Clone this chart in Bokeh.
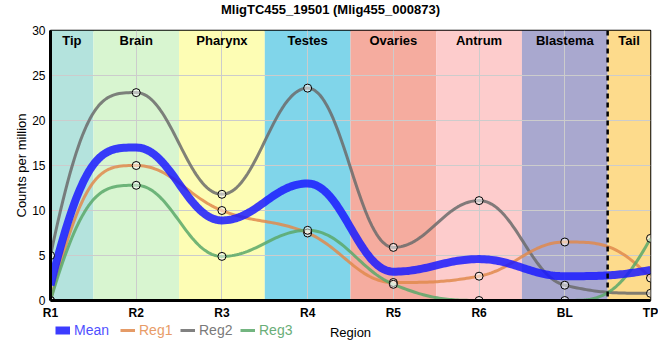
import numpy as np
from bokeh.plotting import figure
from bokeh.layouts import column
from bokeh.models import FixedTicker, Legend, LegendItem, Span, Range1d, Label
from bokeh.core.properties import value
from bokeh.embed import file_html
from bokeh.resources import INLINE

# ---- data ----
title_text = "MligTC455_19501 (Mlig455_000873)"
regions = ["R1", "R2", "R3", "R4", "R5", "R6", "BL", "TP"]
mean = [1.7, 17.0, 8.9, 13.0, 3.2, 4.6, 2.7, 3.4]
reg1 = [0.0, 15.0, 10.0, 7.5, 2.0, 2.7, 6.5, 2.5]
reg2 = [5.0, 23.1, 11.8, 23.6, 5.9, 11.1, 1.7, 0.8]
reg3 = [0.0, 12.8, 4.9, 7.8, 1.8, 0.0, 0.0, 6.9]

band_names = ["Tip", "Brain", "Pharynx", "Testes", "Ovaries", "Antrum", "Blastema", "Tail"]
band_start = [0.0, 0.5, 1.5, 2.5, 3.5, 4.5, 5.5, 6.5]
band_end = [0.5, 1.5, 2.5, 3.5, 4.5, 5.5, 6.5, 7.0]
band_colors = ["#b4e3dd", "#d8f5d0", "#fdfdb4", "#80d5ea", "#f5ac9f", "#fdcccc", "#a9a8cf", "#fddb8c"]
tail_boundary = 6.5

series_names = ["Mean", "Reg1", "Reg2", "Reg3"]
series_colors = ["#1a1aff", "#e08a4c", "#6b6b6b", "#5aa86a"]
series_widths = [8, 3, 3, 3]
label_colors = ["#5050ff", "#e89c68", "#7a7a7a", "#6aae78"]

FONT = "Liberation Sans"
W = 658


def smooth_curve(y, n=40, smoothing=1.5):
    """Spline through the points (control points kept between neighbours)."""
    y = [float(v) for v in y]
    N = len(y)
    x = list(range(N))
    den = smoothing + 1
    L = [None] * N
    R = [None] * N
    for i in range(1, N - 1):
        lx = (smoothing * x[i] + x[i - 1]) / den
        ly = (smoothing * y[i] + y[i - 1]) / den
        rx = (smoothing * x[i] + x[i + 1]) / den
        ry = (smoothing * y[i] + y[i + 1]) / den
        corr = ((ry - ly) * (rx - x[i])) / (rx - lx) + y[i] - ry
        ly += corr
        ry += corr
        last, nxt, py = y[i - 1], y[i + 1], y[i]
        if ly > last and ly > py:
            ly = max(last, py); ry = 2 * py - ly
        elif ly < last and ly < py:
            ly = min(last, py); ry = 2 * py - ly
        if ry > nxt and ry > py:
            ry = max(nxt, py); ly = 2 * py - ry
        elif ry < nxt and ry < py:
            ry = min(nxt, py); ly = 2 * py - ry
        L[i] = (lx, ly)
        R[i] = (rx, ry)
    d = 1.0 / den
    xs_all, ys_all = [], []
    t = np.linspace(0, 1, n)
    for i in range(N - 1):
        p0 = (x[i], y[i])
        p3 = (x[i + 1], y[i + 1])
        c2 = L[i + 1] if i + 1 < N - 1 else None
        c1 = R[i] if i > 0 else None
        if c1 is None and c2 is None:
            c1 = (x[i] + d, y[i]); c2 = (x[i + 1] - d, y[i + 1])
        elif c1 is None:
            c1 = (x[i] + d, c2[1])
        elif c2 is None:
            c2 = (x[i + 1] - d, c1[1])
        b0 = (1 - t) ** 3
        b1 = 3 * (1 - t) ** 2 * t
        b2 = 3 * (1 - t) * t ** 2
        b3 = t ** 3
        bx = b0 * p0[0] + b1 * c1[0] + b2 * c2[0] + b3 * p3[0]
        by = b0 * p0[1] + b1 * c1[1] + b2 * c2[1] + b3 * p3[1]
        if i > 0:
            bx, by = bx[1:], by[1:]
        xs_all.append(bx)
        ys_all.append(by)
    return np.concatenate(xs_all), np.concatenate(ys_all)


def strip(height):
    f = figure(width=W, height=height, output_backend="svg", toolbar_location=None,
               x_range=Range1d(50, 650), y_range=Range1d(0, height),
               min_border_left=50, min_border_right=8, min_border_top=0, min_border_bottom=0)
    f.axis.visible = False
    f.grid.visible = False
    f.outline_line_color = None
    return f


# ---- title strip ----
t = strip(20)
t.add_layout(Label(x=330, y=11, text=title_text, text_font=FONT, text_font_size="13px",
                   text_font_style="bold", text_align="center", text_baseline="middle",
                   text_color="black"))

# ---- main plot ----
p = figure(width=W, height=302, output_backend="svg", toolbar_location=None,
           x_range=Range1d(0, 7), y_range=Range1d(0, 30),
           min_border_left=50, min_border_right=8, min_border_top=10, min_border_bottom=22)

# background bands
p.quad(left=band_start, right=band_end, bottom=0, top=30, fill_color=band_colors,
       line_color=None, level="image")

# band labels
centers = [(a + b) / 2 for a, b in zip(band_start, band_end)]
p.text(x=centers, y=[28.85] * len(centers), text=band_names, text_font=value(FONT),
       text_font_size="13px", text_font_style="bold", text_align="center",
       text_baseline="middle", text_color="black")

xs_idx = list(range(len(regions)))

for data, col in [(reg2, series_colors[2]), (reg1, series_colors[1]), (reg3, series_colors[3])]:
    sx, sy = smooth_curve(data)
    p.line(sx, sy, line_color=col, line_width=3, line_alpha=0.85, line_join="round")

sx, sy = smooth_curve(mean)
p.line(sx, sy, line_color=series_colors[0], line_width=8, line_alpha=0.85, line_join="round")

for data in [reg1, reg2, reg3]:
    p.scatter(xs_idx, data, size=8, fill_color="white", fill_alpha=0.5,
              line_color="black", line_width=1)

p.add_layout(Span(location=tail_boundary, dimension="height", line_color="black",
                  line_width=2.5, line_dash="5 4"))

# axes
p.xaxis.ticker = FixedTicker(ticks=xs_idx)
p.xaxis.major_label_overrides = {i: r for i, r in zip(xs_idx, regions)}
p.yaxis.ticker = FixedTicker(ticks=[0, 5, 10, 15, 20, 25, 30])
for ax in (p.xaxis, p.yaxis):
    ax.axis_line_width = 3
    ax.axis_line_color = "black"
    ax.major_tick_line_color = None
    ax.minor_tick_line_color = None
    ax.major_tick_out = 0
    ax.major_tick_in = 0
    ax.minor_tick_out = 0
    ax.minor_tick_in = 0
    ax.major_label_text_font = FONT
    ax.major_label_text_font_size = "12px"
    ax.major_label_text_color = "black"
    ax.axis_label_text_font = FONT
    ax.axis_label_text_font_style = "normal"
    ax.axis_label_text_font_size = "13px"
    ax.axis_label_text_color = "black"
p.xaxis.major_label_text_font_style = "bold"
p.xaxis.major_label_standoff = 5
p.yaxis.major_label_standoff = 5
p.yaxis.axis_label = "Counts per million"
p.yaxis.axis_label_standoff = 0

p.grid.grid_line_color = "#cccccc"
p.grid.grid_line_width = 1
p.outline_line_color = "black"
p.outline_line_width = 1.5
p.background_fill_color = "white"

# ---- legend row (own strip so it can sit beside the "Region" axis title) ----
q = strip(30)
leg_x = [55, 120, 180, 240]
for name, col, lw, lx, lc in zip(series_names, series_colors, series_widths, leg_x, label_colors):
    r = q.line([0, 1], [-100, -100], line_color=col, line_width=lw, line_alpha=0.85)
    lg = Legend(items=[LegendItem(label=name, renderers=[r])],
                location=(lx - 50, 14), orientation="horizontal",
                background_fill_alpha=0, border_line_alpha=0, padding=0, margin=0,
                glyph_width=15, glyph_height=16, label_height=16, label_standoff=4,
                label_text_font=FONT, label_text_font_size="14px",
                label_text_color=lc)
    q.add_layout(lg, "center")

q.add_layout(Label(x=350, y=20, text="Region", text_font=FONT, text_font_size="13px",
                   text_align="center", text_baseline="middle", text_color="black"))

layout = column(t, p, q, spacing=0)
open("out.html", "w").write(file_html(layout, INLINE))
